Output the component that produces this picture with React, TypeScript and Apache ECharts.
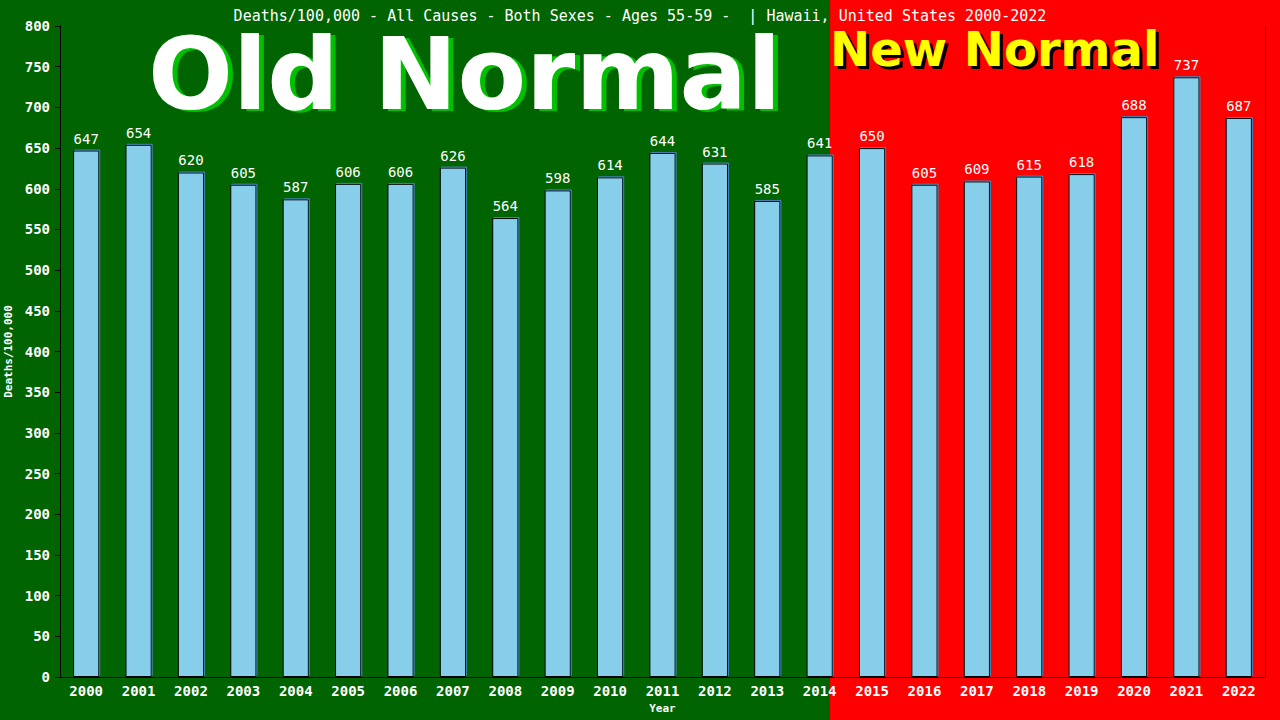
import React, { useEffect, useRef } from 'react';
import * as echarts from 'echarts';

const years = ['2000', '2001', '2002', '2003', '2004', '2005', '2006', '2007', '2008', '2009', '2010', '2011',
  '2012', '2013', '2014', '2015', '2016', '2017', '2018', '2019', '2020', '2021', '2022'];
const deaths = [647, 654, 620, 605, 587, 606, 606, 626, 564, 598, 614, 644, 631, 585, 641, 650, 605, 609, 615, 618, 688, 737, 687];

const TITLE = 'Deaths/100,000 - All Causes - Both Sexes - Ages 55-59 -  | Hawaii, United States 2000-2022';
const MONO = '"DejaVu Sans Mono", monospace';
const SANS = '"DejaVu Sans", Verdana, sans-serif';

const App: React.FC = () => {
  const chartRef = useRef<HTMLDivElement>(null);

  useEffect(() => {
    if (!chartRef.current) return;
    const chart = echarts.init(chartRef.current, undefined, { renderer: 'svg' });

    const option: any = {
      animation: false,
      backgroundColor: '#006400',
      title: {
        text: TITLE,
        left: 'center',
        top: 3,
        textStyle: { color: '#fff', fontFamily: MONO, fontSize: 15, fontWeight: 'normal' }
      },
      graphic: [
        // red "new normal" background
        { type: 'rect', z: -10, shape: { x: 830, y: 0, width: 450, height: 720 }, style: { fill: '#ff0000' } },
        // big labels, each drawn twice for the offset shadow
        { type: 'text', z: 1, x: 153, y: 26, style: { text: 'Old Normal', fill: '#00c000', font: `bold 100px ${SANS}` } },
        { type: 'text', z: 1, x: 148, y: 24, style: { text: 'Old Normal', fill: '#ffffff', font: `bold 100px ${SANS}` } },
        { type: 'text', z: 1, x: 833, y: 28, style: { text: 'New Normal', fill: '#000000', font: `bold 48px ${SANS}` } },
        { type: 'text', z: 1, x: 830, y: 25, style: { text: 'New Normal', fill: '#ffff00', font: `bold 48px ${SANS}` } }
      ],
      grid: { left: 60, right: 15, top: 26, bottom: 43, outerBoundsMode: 'none' },
      xAxis: {
        type: 'category',
        data: years,
        name: 'Year',
        nameLocation: 'middle',
        nameGap: 26,
        nameTextStyle: { color: '#fff', fontFamily: MONO, fontSize: 11, fontWeight: 'bold' },
        axisLine: { lineStyle: { color: '#000', width: 1 } },
        axisTick: { show: false },
        axisLabel: { color: '#fff', fontFamily: MONO, fontSize: 14, fontWeight: 'bold', margin: 7, interval: 0 }
      },
      yAxis: [
        {
          type: 'value',
          min: 0,
          max: 800,
          interval: 50,
          name: 'Deaths/100,000',
          nameLocation: 'middle',
          nameGap: 43,
          nameTextStyle: { color: '#fff', fontFamily: MONO, fontSize: 11, fontWeight: 'bold' },
          axisLine: { show: true, lineStyle: { color: '#000', width: 1 } },
          axisTick: { show: true, length: 5, lineStyle: { color: '#000' } },
          axisLabel: { color: '#fff', fontFamily: MONO, fontSize: 14, fontWeight: 'bold', margin: 10 },
          splitLine: { show: false }
        },
        {
          type: 'value',
          min: 0,
          max: 800,
          interval: 50,
          position: 'right',
          axisLine: { show: true, lineStyle: { color: '#000', width: 1 } },
          axisTick: { show: false },
          axisLabel: { show: false },
          splitLine: { show: false }
        }
      ],
      series: [
        {
          name: 'Deaths/100,000',
          type: 'bar',
          data: deaths,
          barWidth: '50%',
          itemStyle: {
            color: '#87ceeb',
            borderColor: '#000',
            borderWidth: 1,
            shadowColor: '#4682b4',
            shadowOffsetX: 1,
            shadowOffsetY: -1,
            shadowBlur: 0
          },
          label: {
            show: true,
            position: 'top',
            distance: 5,
            color: '#fff',
            fontFamily: MONO,
            fontSize: 14
          }
        }
      ]
    };

    chart.setOption(option);
    return () => chart.dispose();
  }, []);

  return <div ref={chartRef} style={{ position: 'fixed', left: 0, top: 0, width: 1280, height: 720 }} />;
};

export default App;
